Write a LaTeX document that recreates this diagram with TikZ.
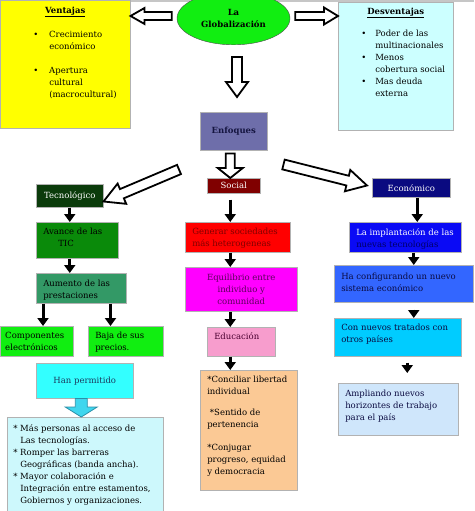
\documentclass[tikz,border=0pt]{standalone}
\usepackage{fontspec}
\setmainfont{DejaVu Serif}
\usetikzlibrary{arrows.meta, positioning, calc, shapes.geometric}

\definecolor{cvent}{HTML}{FFFF00}
\definecolor{cdesv}{HTML}{CCFFFF}
\definecolor{cglob}{HTML}{11EE11}
\definecolor{cenf}{HTML}{6E6EAA}
\definecolor{cenft}{HTML}{151540}
\definecolor{csoc}{HTML}{800000}
\definecolor{ctec}{HTML}{0B3B0B}
\definecolor{ceco}{HTML}{0A0A80}
\definecolor{cavan}{HTML}{0A8A0A}
\definecolor{caum}{HTML}{339966}
\definecolor{ccomp}{HTML}{11EE11}
\definecolor{chan}{HTML}{33FFFF}
\definecolor{chant}{HTML}{1C3A5E}
\definecolor{clist}{HTML}{CDF8FC}
\definecolor{cgen}{HTML}{FF0000}
\definecolor{cgent}{HTML}{800000}
\definecolor{cequi}{HTML}{FF00FF}
\definecolor{cequit}{HTML}{5A005A}
\definecolor{cedu}{HTML}{F79DCD}
\definecolor{cedut}{HTML}{4A0030}
\definecolor{cconc}{HTML}{FBC995}
\definecolor{cimpl}{HTML}{0A0AF5}
\definecolor{cimplt}{HTML}{000066}
\definecolor{cconf}{HTML}{3366FF}
\definecolor{cconft}{HTML}{0A0A40}
\definecolor{ctrat}{HTML}{00CCFF}
\definecolor{campl}{HTML}{CFE6FB}
\definecolor{charr}{HTML}{3FD6EE}
\definecolor{charrd}{HTML}{2B8FA8}

\newcommand{\dfont}{\fontsize{8.5}{12}\selectfont}
% text block: width, height, first baseline, lines
\newcommand{\tb}[4]{\parbox[c][#2][t]{#1}{\raggedright\rule{0pt}{#3}#4}}
% block arrow: [style] from, to, shaft half, head half, head length
\newcommand{\hollowarrow}[6][hollow]{%
  \path[#1] ($(#2)!#4!90:(#3)$) -- ($(#3)!#6!(#2)!#4!-90:(#2)$)
    -- ($(#3)!#6!(#2)!#5!-90:(#2)$) -- (#3)
    -- ($(#3)!#6!(#2)!#5!90:(#2)$) -- ($(#3)!#6!(#2)!#4!90:(#2)$)
    -- ($(#2)!#4!-90:(#3)$) -- cycle;}

\tikzset{
  box/.style={draw=gray!60, line width=0.5pt, anchor=north west, inner sep=0pt, align=left},
  arr/.style={line width=3pt, -{Triangle[length=8pt, width=11pt]}},
  hollow/.style={draw=black, line width=1.8pt, fill=white, line join=miter},
  hanarrow/.style={draw=charrd, line width=0.8pt, fill=charr},
}

\begin{document}
\begin{tikzpicture}[x=1pt, y=-1pt, font=\dfont]
  \useasboundingbox (0,0) rectangle (474,511);
  \clip (0,0) rectangle (474,511);
  \fill[gray!45] (0,0) rectangle (474,2.5);

  % ===== fila superior =====
  \node[box, fill=cvent] (vent) at (0,0) {\parbox[c][128pt][t]{130pt}{%
    {\centering\rule{0pt}{13pt}\underline{\textbf{Ventajas}}\par}\vspace{12pt}
    \raggedright
    \hspace*{33pt}\makebox[16pt][l]{\textbullet}Crecimiento\\
    \hspace*{49pt}económico\\[12pt]
    \hspace*{33pt}\makebox[16pt][l]{\textbullet}Apertura\\
    \hspace*{49pt}cultural\\
    \hspace*{49pt}(macrocultural)}};

  \node[box, fill=cdesv] (desv) at (338,2) {\parbox[c][128pt][t]{115pt}{%
    {\centering\rule{0pt}{12pt}\underline{\textbf{Desventajas}}\par}\vspace{10pt}
    \raggedright
    \hspace*{23pt}\makebox[14pt][l]{\textbullet}Poder de las\\
    \hspace*{37pt}multinacionales\\
    \hspace*{23pt}\makebox[14pt][l]{\textbullet}Menos\\
    \hspace*{37pt}cobertura social\\
    \hspace*{23pt}\makebox[14pt][l]{\textbullet}Mas deuda\\
    \hspace*{37pt}externa}};

  \node[ellipse, draw=black!70, fill=cglob, minimum width=113pt, minimum height=53pt,
        inner sep=0pt, align=center, font=\dfont\bfseries] (glob) at (233.5,18.3) {La\\Globalización};

  \node[box, fill=cenf, minimum width=67pt, minimum height=38pt, align=center,
        text=cenft, font=\dfont\bfseries] (enf) at (200,112) {Enfoques};

  % ===== enfoques =====
  \node[box, fill=csoc, minimum width=53pt, minimum height=15pt, align=center, text=white] (soc) at (207,178) {Social};
  \node[box, fill=ctec, minimum width=67pt, minimum height=23pt, align=center, text=white] (tec) at (36,184) {Tecnológico};
  \node[box, fill=ceco, minimum width=78pt, minimum height=19pt, align=center, text=white] (eco) at (372,178) {Económico};

  % Tecnológico
  \node[box, fill=cavan, inner xsep=7pt] (avan) at (36,222) {\tb{68pt}{36pt}{12pt}{Avance de las\\\hspace*{15pt}TIC}};
  \node[box, fill=caum, inner xsep=7pt] (aum) at (36,273) {\tb{76pt}{30pt}{13pt}{Aumento de las\\prestaciones}};
  \node[box, fill=ccomp, inner xsep=5pt] (comp) at (0,326) {\tb{63pt}{30pt}{12pt}{Componentes\\electrónicos}};
  \node[box, fill=ccomp, inner xsep=7pt] (baja) at (88,326) {\tb{61pt}{30pt}{12pt}{Baja de sus\\precios.}};
  \node[box, fill=chan, minimum width=97pt, minimum height=35pt, align=center, text=chant] (han) at (36,363) {Han permitido};
  \node[box, fill=clist, inner xsep=6pt] (list) at (7,417) {\tb{144pt}{100pt}{14pt}{%
    \makebox[7pt][l]{*}Más personas al acceso de\\
    \hspace*{7pt}Las tecnologías.\\
    \makebox[7pt][l]{*}Romper las barreras\\
    \hspace*{7pt}Geográficas (banda ancha).\\
    \makebox[7pt][l]{*}Mayor colaboración e\\
    \hspace*{7pt}Integración entre estamentos,\\
    \hspace*{7pt}Gobiernos y organizaciones.}};

  % Social
  \node[box, fill=cgen, text=cgent, inner xsep=7pt] (gen) at (185,222) {\tb{91pt}{30pt}{12pt}{Generar sociedades\\más heterogeneas}};
  \node[box, fill=cequi, text=cequit, minimum width=112pt, minimum height=44pt, align=center] (equi) at (185,267) {Equilibrio entre\\individuo y\\comunidad};
  \node[box, fill=cedu, text=cedut, inner xsep=7pt] (edu) at (207,327) {\tb{54pt}{29pt}{12pt}{Educación}};
  \node[box, fill=cconc, inner xsep=7pt] (conc) at (200,370) {\tb{83pt}{120pt}{12pt}{%
    *Conciliar libertad\\
    individual\\[9pt]
    \ *Sentido de\\
    pertenencia\\[11pt]
    *Conjugar\\
    progreso, equidad\\
    y democracia}};

  % Económico
  \node[box, fill=cimpl, inner xsep=7pt] (impl) at (349,222) {\tb{98pt}{30pt}{13pt}{\textcolor{white}{La implantación de las}\\\textcolor{cimplt}{nuevas tecnologías}}};
  \node[box, fill=cconf, text=cconft, inner xsep=7pt] (conf) at (334,265) {\tb{125pt}{37pt}{14pt}{Ha configurando un nuevo\\sistema económico}};
  \node[box, fill=ctrat, text=cconft, inner xsep=7pt] (trat) at (334,318) {\tb{113pt}{38pt}{12pt}{Con nuevos tratados con\\otros países}};
  \node[box, fill=campl, text=cconft, inner xsep=7pt] (ampl) at (338,383) {\tb{106pt}{52pt}{13pt}{Ampliando nuevos\\horizontes de trabajo\\para el país}};

  % ===== flechas huecas =====
  \coordinate (gL) at ($(glob.west)+(-5,-2.3)$);
  \coordinate (vR) at (vent.east |- gL);
  \hollowarrow{gL}{vR}{4pt}{8pt}{14pt}
  \coordinate (gR) at ($(glob.east)+(5,-2.3)$);
  \coordinate (dL) at (desv.west |- gR);
  \hollowarrow{gR}{dL}{4pt}{8.5pt}{14pt}
  \coordinate (gD) at ($(glob.south)+(3.5,12)$);
  \coordinate (eU) at ($(gD |- enf.north)+(0,-15)$);
  \hollowarrow{gD}{eU}{5pt}{11pt}{15pt}
  \coordinate (eD) at ($(enf.south)+(-3.5,3)$);
  \coordinate (sU) at (eD |- soc.north);
  \hollowarrow{eD}{sU}{4.5pt}{12.5pt}{10pt}
  \coordinate (eTL) at ($(enf.south west)+(-21,19)$);
  \coordinate (tR) at ($(tec.south east)+(0,-6)$);
  \hollowarrow{eTL}{tR}{5pt}{11pt}{20pt}
  \coordinate (eTR) at ($(enf.south east)+(16,14)$);
  \coordinate (ecL) at ($(eco.south west)+(-5,-12)$);
  \hollowarrow{eTR}{ecL}{5pt}{11pt}{20pt}
  \coordinate (hB) at ($(han.south)+(-3.5,0)$);
  \coordinate (lT) at (hB |- list.north);
  \hollowarrow[hanarrow]{hB}{lT}{6pt}{16pt}{10pt}

  % ===== flechas negras =====
  \draw[arr] (tec.south) -- (tec.south |- avan.north);
  \draw[arr] (tec.south |- avan.south) -- (tec.south |- aum.north);
  \coordinate (a1) at ([xshift=7pt]aum.south west);
  \coordinate (a2) at ([xshift=-16pt]aum.south east);
  \draw[arr] (a1) -- (a1 |- comp.north);
  \draw[arr] (a2) -- (a2 |- baja.north);

  \coordinate (s1) at ([xshift=-3.5pt]soc.south);
  \draw[arr, shorten <=6pt] (s1) -- (s1 |- gen.north);
  \draw[arr] (s1 |- gen.south) -- (s1 |- equi.north);
  \draw[arr] (s1 |- equi.south) -- (s1 |- edu.north);
  \draw[arr] (s1 |- edu.south) -- (s1 |- conc.north);

  \coordinate (e1) at ([xshift=6pt]eco.south);
  \coordinate (e2) at ([xshift=8.5pt]impl.south);
  \coordinate (e3) at ([xshift=9.5pt]trat.south);
  \draw[arr] (e1) -- (e1 |- impl.north);
  \draw[arr] (e2) -- (e2 |- conf.north);
  \draw[arr, shorten <=7pt] (e2 |- conf.south) -- (e2 |- trat.north);
  \draw[arr, shorten <=6pt, shorten >=10pt] (e3) -- (e3 |- ampl.north);
\end{tikzpicture}
\end{document}
